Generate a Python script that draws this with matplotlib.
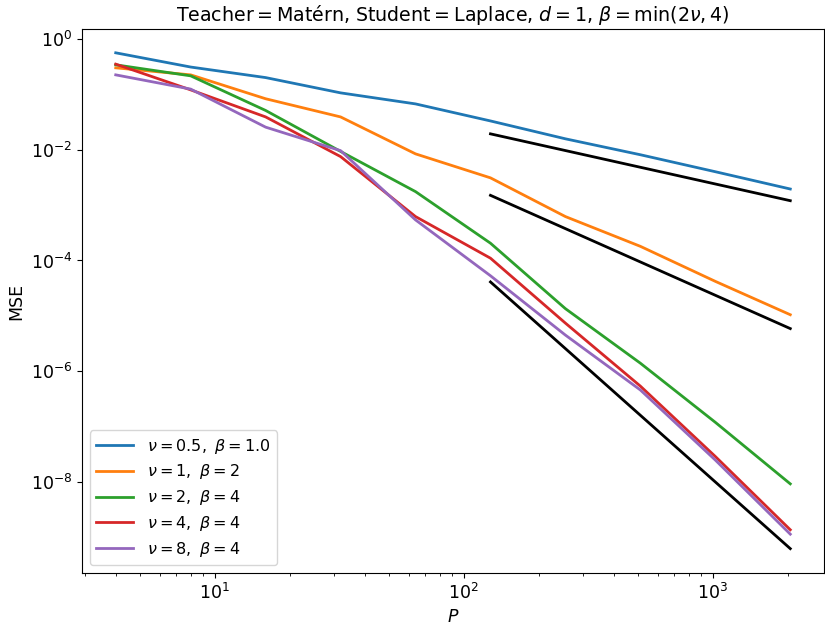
import matplotlib
matplotlib.use("Agg")
import matplotlib.pyplot as plt
from matplotlib.ticker import NullLocator

P = [4, 8, 16, 32, 64, 128, 256, 512, 1024, 2048]
labels = [r'$\nu = 0.5,\ \beta = 1.0$', r'$\nu = 1,\ \beta = 2$', r'$\nu = 2,\ \beta = 4$',
          r'$\nu = 4,\ \beta = 4$', r'$\nu = 8,\ \beta = 4$']
mse_nu05 = [0.56, 0.31, 0.20, 0.106, 0.067, 0.033, 0.0157, 0.0081, 0.0040, 0.00195]
mse_nu1 = [0.30, 0.224, 0.083, 0.039, 0.0084, 0.0031, 6.2e-4, 1.8e-4, 4.2e-5, 1.05e-5]
mse_nu2 = [0.34, 0.215, 0.051, 0.0093, 0.00175, 2.05e-4, 1.35e-5, 1.4e-6, 1.2e-7, 9.3e-9]
mse_nu4 = [0.35, 0.12, 0.039, 0.0075, 6.2e-4, 1.1e-4, 7.4e-6, 5.4e-7, 2.9e-8, 1.38e-9]
mse_nu8 = [0.224, 0.124, 0.0255, 0.0096, 5.4e-4, 5.3e-5, 4.5e-6, 4.6e-7, 2.5e-8, 1.15e-9]
series = [mse_nu05, mse_nu1, mse_nu2, mse_nu4, mse_nu8]
colors = ['#1f77b4', '#ff7f0e', '#2ca02c', '#d62728', '#9467bd']

ref_P = [128, 2048]
ref_lines = [[0.0193, 0.0012], [1.5e-3, 5.9e-6], [4.1e-5, 6.3e-10]]

fs = 12.5
fig = plt.figure(figsize=(8.25, 6.28), dpi=100)
ax = fig.add_axes([0.0994, 0.0876, 0.8994, 0.8664])
for y, c, lab in zip(series, colors, labels):
    ax.plot(P, y, color=c, lw=2, label=lab)
for r in ref_lines:
    ax.plot(ref_P, r, color='black', lw=2)
ax.set_xscale('log')
ax.set_yscale('log')
ax.set_ylim(10**-9.64, 10**0.18)
ax.set_yticks([1e0, 1e-2, 1e-4, 1e-6, 1e-8])
ax.yaxis.set_minor_locator(NullLocator())
ax.tick_params(labelsize=fs)
ax.set_xlabel(r'$P$', fontsize=fs)
ax.set_ylabel('MSE', fontsize=fs)
ax.set_title(r'Teacher$=$Matérn, Student$=$Laplace, $d=1$, $\beta=\min(2\nu, 4)$', fontsize=13.7)
ax.legend(loc='lower left', fontsize=11.5, handlelength=2.3, handletextpad=0.9, labelspacing=0.42)
fig.savefig('out.png', dpi=100)
